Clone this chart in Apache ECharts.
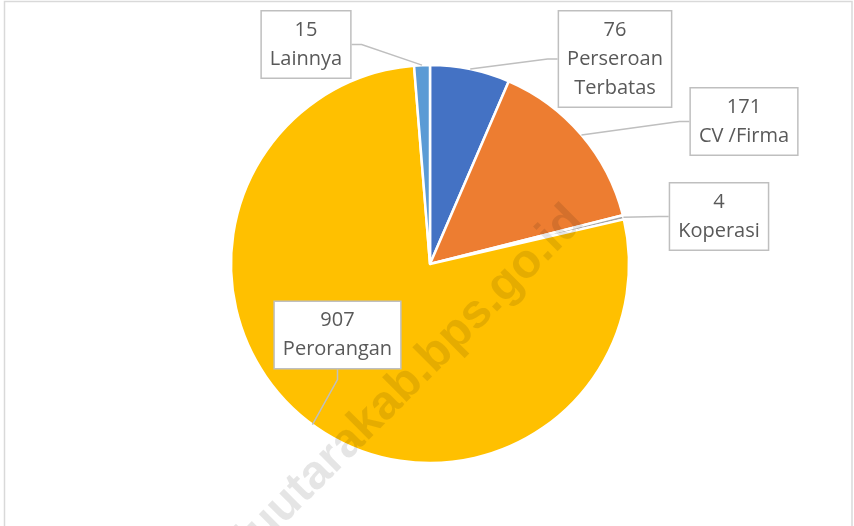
<!DOCTYPE html>
<html lang="id">
<head>
    <meta charset="UTF-8">
    <title>Jenis Badan Usaha</title>
    <script type="text/javascript" src="https://cdn.jsdelivr.net/npm/echarts@6/dist/echarts.min.js"></script>
    <style>
        html, body { margin: 0; padding: 0; background: #fff; }
    </style>
</head>
<body>
<div id="pieChart" style="width:854px;height:526px;"></div>
<script type="text/javascript">
    // data
    var categories = ['Perseroan Terbatas', 'CV /Firma', 'Koperasi', 'Perorangan', 'Lainnya'];
    var values = [76, 171, 4, 907, 15];
    var colors = ['#4472C4', '#ED7D31', '#A5A5A5', '#FFC000', '#5B9BD5'];

    // where each callout box sits (centre of box, px)
    var labelBoxCenters = [[615, 59], [744, 121.5], [719, 216.5], [337.5, 335], [306, 44.5]];
    // names that are shown on two lines in their box
    var twoLineNames = ['Perseroan Terbatas'];

    var dom = document.getElementById('pieChart');
    var myChart = echarts.init(dom);

    var seriesData = [];
    for (var i = 0; i < categories.length; i++) {
        seriesData.push({
            name: categories[i],
            value: values[i],
            itemStyle: { color: colors[i] }
        });
    }

    var option = {
        backgroundColor: '#fff',
        animation: false,
        graphic: [
            {
                type: 'rect',
                silent: true,
                shape: { x: 4.5, y: 1.5, width: 847.5, height: 540 },
                style: { fill: 'none', stroke: '#D9D9D9', lineWidth: 1.5 }
            },
            {
                type: 'text',
                silent: true,
                z: 100,
                x: 576,
                y: 214,
                rotation: Math.PI / 4,
                style: {
                    text: 'bengkuluutarakab.bps.go.id',
                    align: 'right',
                    verticalAlign: 'middle',
                    fill: 'rgba(0,0,0,0.1)',
                    font: 'bold 48px "Liberation Sans", Arial, sans-serif'
                }
            }
        ],
        series: [
            {
                type: 'pie',
                center: [430, 264],
                radius: 199,
                startAngle: 90,
                clockwise: true,
                avoidLabelOverlap: false,
                data: seriesData,
                itemStyle: {
                    borderColor: '#fff',
                    borderWidth: 2.5
                },
                label: {
                    show: true,
                    position: 'outside',
                    formatter: function (params) {
                        var name = params.name;
                        if (twoLineNames.indexOf(name) >= 0) {
                            name = name.replace(' ', '\n');
                        }
                        return params.value + '\n' + name;
                    },
                    color: '#595959',
                    fontFamily: '"Open Sans", sans-serif',
                    fontSize: 20,
                    lineHeight: 29,
                    align: 'center',
                    backgroundColor: '#fff',
                    borderColor: '#BFBFBF',
                    borderWidth: 1.5,
                    padding: [4, 8]
                },
                labelLine: {
                    show: true,
                    showAbove: true,
                    length: 10,
                    length2: 10,
                    lineStyle: { color: '#BFBFBF', width: 1.5 }
                },
                labelLayout: function (params) {
                    var p = labelBoxCenters[params.dataIndex];
                    return { x: p[0], y: p[1], align: 'center', verticalAlign: 'middle' };
                },
                emphasis: { disabled: true }
            }
        ]
    };

    if (option && typeof option === 'object') {
        myChart.setOption(option, true);
    }
</script>
</body>
</html>
